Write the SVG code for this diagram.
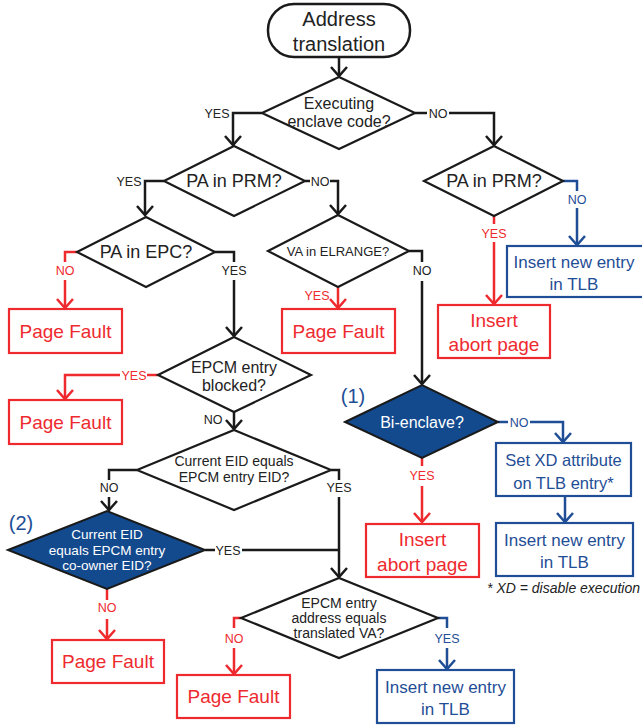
<svg xmlns="http://www.w3.org/2000/svg" width="642" height="725" viewBox="0 0 642 725">
<defs>
<style>
text{font-family:"Liberation Sans",Arial,sans-serif;text-anchor:middle}
.k{fill:none;stroke:#1a1a1a;stroke-width:2.5}
.r{fill:none;stroke:#ee2a2f;stroke-width:2.5}
.b{fill:none;stroke:#1f4e96;stroke-width:2.5}
.nd{fill:#fff;stroke:#1a1a1a;stroke-width:2.2}
.fd{fill:#134a8e;stroke:#1a1a1a;stroke-width:2}
.rb{fill:#fff;stroke:#ee2a2f;stroke-width:2.2}
.bb{fill:#fff;stroke:#1f4e96;stroke-width:2.2}
.tk{fill:#222}
.tr{fill:#ee2a2f}
.tb{fill:#1f4e96}
.tw{fill:#fff}
.lb{font-size:12.5px}
</style>
<marker id="ak" markerWidth="20" markerHeight="20" refX="10" refY="10" markerUnits="userSpaceOnUse" orient="auto"><path d="M1,2 L10,10 L1,18" fill="none" stroke="#1a1a1a" stroke-width="2.5"/></marker>
<marker id="ar" markerWidth="20" markerHeight="20" refX="10" refY="10" markerUnits="userSpaceOnUse" orient="auto"><path d="M1,2 L10,10 L1,18" fill="none" stroke="#ee2a2f" stroke-width="2.5"/></marker>
<marker id="ab" markerWidth="20" markerHeight="20" refX="10" refY="10" markerUnits="userSpaceOnUse" orient="auto"><path d="M1,2 L10,10 L1,18" fill="none" stroke="#1f4e96" stroke-width="2.5"/></marker>
</defs>
<rect width="642" height="725" fill="#fff"/>

<g id="connectors">
<path class="k" d="M339,57 V76" marker-end="url(#ak)"/>
<path class="k" d="M262,113 H233 V145" marker-end="url(#ak)"/>
<text class="tk lb" x="217" y="118">YES</text>
<path class="k" d="M415,113 H427"/>
<text class="tk lb" x="438" y="118">NO</text>
<path class="k" d="M449,113 H494 V145" marker-end="url(#ak)"/>

<path class="k" d="M164,181 H145 V215" marker-end="url(#ak)"/>
<text class="tk lb" x="129" y="186">YES</text>
<path class="k" d="M305,181 H310"/>
<text class="tk lb" x="320" y="186">NO</text>
<path class="k" d="M330,181 H338 V214" marker-end="url(#ak)"/>

<path class="b" d="M563,181 H577 V191"/>
<text class="tb lb" x="577" y="204">NO</text>
<path class="b" d="M577,208 V245" marker-end="url(#ab)"/>
<path class="r" d="M494,216 V224"/>
<text class="tr lb" x="494" y="238">YES</text>
<path class="r" d="M494,242 V304" marker-end="url(#ar)"/>

<path class="r" d="M77,252 H65 V262"/>
<text class="tr lb" x="65" y="275">NO</text>
<path class="r" d="M65,280 V308" marker-end="url(#ar)"/>
<path class="k" d="M215,252 H234 V262"/>
<text class="tk lb" x="234" y="275">YES</text>
<path class="k" d="M234,280 V336" marker-end="url(#ak)"/>

<path class="r" d="M338,287 V308" marker-end="url(#ar)"/>
<text class="tr lb" x="317" y="300">YES</text>
<path class="k" d="M409,251 H422 V262"/>
<text class="tk lb" x="422" y="275">NO</text>
<path class="k" d="M422,281 V384" marker-end="url(#ak)"/>

<path class="r" d="M158,375 H147"/>
<text class="tr lb" x="134" y="380">YES</text>
<path class="r" d="M120,375 H65 V399" marker-end="url(#ar)"/>
<path class="k" d="M234,412 V429" marker-end="url(#ak)"/>
<text class="tk lb" x="213" y="424">NO</text>

<path class="k" d="M331,470 H339 V480"/>
<text class="tk lb" x="339" y="492">YES</text>
<path class="k" d="M339,497 V577" marker-end="url(#ak)"/>
<path class="k" d="M137,470 H109 V480"/>
<text class="tk lb" x="109" y="492">NO</text>
<path class="k" d="M109,497 V510" marker-end="url(#ak)"/>

<path class="k" d="M205,550 H215"/>
<text class="tk lb" x="228" y="555">YES</text>
<path class="k" d="M242,550 H339"/>
<path class="r" d="M107,589 V600"/>
<text class="tr lb" x="107" y="612">NO</text>
<path class="r" d="M107,619 V639" marker-end="url(#ar)"/>

<path class="r" d="M241,618 H234 V628"/>
<text class="tr lb" x="234" y="643">NO</text>
<path class="r" d="M234,648 V674" marker-end="url(#ar)"/>
<path class="b" d="M438,618 H447 V628"/>
<text class="tb lb" x="447" y="643">YES</text>
<path class="b" d="M447,648 V669" marker-end="url(#ab)"/>

<path class="b" d="M498,422 H508"/>
<text class="tb lb" x="519" y="427">NO</text>
<path class="b" d="M530,422 H563 V442" marker-end="url(#ab)"/>
<path class="r" d="M422,458 V466"/>
<text class="tr lb" x="422" y="480">YES</text>
<path class="r" d="M422,486 V522" marker-end="url(#ar)"/>
<path class="b" d="M565,496 V522" marker-end="url(#ab)"/>
</g>

<g id="start">
<rect x="268" y="4" width="142" height="53" rx="26" fill="#fff" stroke="#1a1a1a" stroke-width="2.5"/>
<text class="tk" x="339" y="26" font-size="20">Address</text>
<text class="tk" x="339" y="51" font-size="20">translation</text>
</g>
<g id="d-exec">
<polygon class="nd" points="262,113 339,77 415,113 339,149"/>
<text class="tk" x="339" y="109" font-size="16">Executing</text>
<text class="tk" x="339" y="127" font-size="16">enclave code?</text>
</g>
<g id="d-prm-left">
<polygon class="nd" points="164,181 234,146 305,181 234,216"/>
<text class="tk" x="234" y="187" font-size="18">PA in PRM?</text>
</g>
<g id="d-prm-right">
<polygon class="nd" points="424,181 494,146 563,181 494,216"/>
<text class="tk" x="494" y="187" font-size="18">PA in PRM?</text>
</g>
<g id="tlb1">
<rect class="bb" x="507" y="246" width="140" height="51"/>
<text class="tb" x="574" y="268" font-size="17">Insert new entry</text>
<text class="tb" x="574" y="290" font-size="17">in TLB</text>
</g>
<g id="abort1">
<rect class="rb" x="438" y="305" width="112" height="53"/>
<text class="tr" x="494" y="327" font-size="19">Insert</text>
<text class="tr" x="494" y="351" font-size="19">abort page</text>
</g>
<g id="d-epc">
<polygon class="nd" points="77,252 146,217 215,252 146,287"/>
<text class="tk" x="146" y="258" font-size="18">PA in EPC?</text>
</g>
<g id="pf1">
<rect class="rb" x="9" y="309" width="113" height="44"/>
<text class="tr" x="65.5" y="338" font-size="19">Page Fault</text>
</g>
<g id="d-elrange">
<polygon class="nd" points="268,251 338,215 409,251 338,287"/>
<text class="tk" x="338" y="256" font-size="13">VA in ELRANGE?</text>
</g>
<g id="pf2">
<rect class="rb" x="282" y="309" width="113" height="44"/>
<text class="tr" x="338.5" y="338" font-size="19">Page Fault</text>
</g>
<g id="d-blocked">
<polygon class="nd" points="158,375 234,337 311,375 234,412"/>
<text class="tk" x="234" y="373" font-size="16">EPCM entry</text>
<text class="tk" x="234" y="391" font-size="16">blocked?</text>
</g>
<g id="pf3">
<rect class="rb" x="9" y="400" width="113" height="44"/>
<text class="tr" x="65.5" y="429" font-size="19">Page Fault</text>
</g>
<g id="d-bienclave">
<polygon class="fd" points="345,422 422,385 498,422 422,458"/>
<text class="tw" x="422" y="428" font-size="16">Bi-enclave?</text>
<text class="tb" x="353" y="403" font-size="20">(1)</text>
</g>
<g id="setxd">
<rect class="bb" x="496" y="443" width="135" height="53"/>
<text class="tb" x="563.5" y="466" font-size="16.5">Set XD attribute</text>
<text class="tb" x="563.5" y="489" font-size="16.5">on TLB entry*</text>
</g>
<g id="tlb2">
<rect class="bb" x="496" y="523" width="137" height="53"/>
<text class="tb" x="564.5" y="546" font-size="17">Insert new entry</text>
<text class="tb" x="564.5" y="568" font-size="17">in TLB</text>
</g>
<g id="abort2">
<rect class="rb" x="366" y="524" width="113" height="53"/>
<text class="tr" x="422.5" y="546" font-size="19">Insert</text>
<text class="tr" x="422.5" y="571" font-size="19">abort page</text>
</g>
<g id="footnote">
<text class="tk" x="640" y="593" font-size="14" font-style="italic" style="text-anchor:end">* XD = disable execution</text>
</g>
<g id="d-eid">
<polygon class="nd" points="137,470 234,430 331,470 234,510"/>
<text class="tk" x="234" y="466" font-size="14">Current EID equals</text>
<text class="tk" x="234" y="482" font-size="14">EPCM entry EID?</text>
</g>
<g id="d-coowner">
<polygon class="fd" points="8,550 107,511 205,550 107,589"/>
<text class="tw" x="107" y="539" font-size="13.5">Current EID</text>
<text class="tw" x="107" y="555" font-size="13.5">equals EPCM entry</text>
<text class="tw" x="107" y="570" font-size="13.5">co-owner EID?</text>
<text class="tb" x="21" y="530" font-size="20">(2)</text>
</g>
<g id="pf4">
<rect class="rb" x="52" y="640" width="112" height="43"/>
<text class="tr" x="108" y="668" font-size="19">Page Fault</text>
</g>
<g id="d-address">
<polygon class="nd" points="241,618 339,578 438,618 339,658"/>
<text class="tk" x="339" y="608" font-size="14">EPCM entry</text>
<text class="tk" x="339" y="623" font-size="14">address equals</text>
<text class="tk" x="339" y="638" font-size="14">translated VA?</text>
</g>
<g id="pf5">
<rect class="rb" x="177" y="675" width="113" height="43"/>
<text class="tr" x="233.5" y="703" font-size="19">Page Fault</text>
</g>
<g id="tlb3">
<rect class="bb" x="377" y="670" width="137" height="53"/>
<text class="tb" x="445.5" y="693" font-size="17">Insert new entry</text>
<text class="tb" x="445.5" y="715" font-size="17">in TLB</text>
</g>
</svg>
